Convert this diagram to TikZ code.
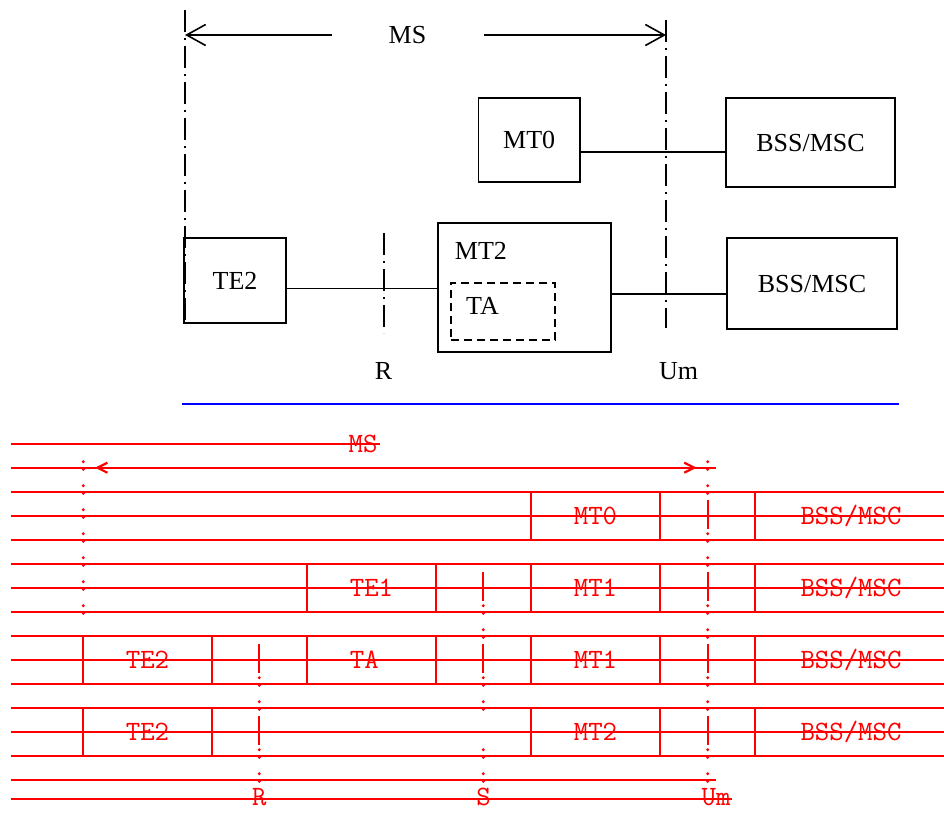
\documentclass[tikz,border=0pt]{standalone}
\usepackage{fontspec}
\setmainfont{Liberation Serif}
\usetikzlibrary{arrows.meta, positioning}

\begin{document}
\begin{tikzpicture}[x=1pt, y=-1pt,
    box/.style={rectangle, draw, line width=1.7pt, inner sep=0pt, font=\fontsize{26}{26}\selectfont, text height=17.2pt, text depth=0pt},
    tabox/.style={rectangle, draw, line width=2pt, dash pattern=on 8pt off 5pt, inner sep=0pt},
    plain/.style={inner sep=0pt, font=\fontsize{26}{26}\selectfont, text height=17.2pt, text depth=0pt},
    link/.style={line width=1.7pt},
    border/.style={line width=1.5pt, dash pattern=on 22pt off 6pt on 2pt off 6pt},
    msarrow/.style={-{Straight Barb[length=19pt, width=21pt]}, line width=1.6pt},
    redtext/.style={inner sep=0pt, text=red, font=\ttfamily\fontsize{28}{28}\selectfont, text height=16.8pt, text depth=0pt},
    redbox/.style={redtext, rectangle, draw=red, line width=2.4pt, minimum width=128.5pt, minimum height=48pt},
    bssbox/.style={redbox, minimum width=192pt},
    strike/.style={red, line width=2.4pt},
    redlink/.style={red, line width=2.4pt},
    bar/.style={red, line width=2pt},
    redarrow/.style={{Straight Barb[length=10pt, width=10pt]}-{Straight Barb[length=10pt, width=10pt]}, red, line width=2.2pt}
]
\useasboundingbox (0,0) rectangle (944,812);
\clip (0,0) rectangle (944,812);

% MS boundaries
\coordinate (lefttop) at (185,10);
\coordinate (leftbot) at (185,323);
\coordinate (umtop) at (666,20);
\coordinate (umbot) at (666,328);
\coordinate (rtop) at (384,233);
\coordinate (rbot) at (384,333);
\draw[border] (lefttop) -- (leftbot);
\draw[border] (umtop) -- (umbot);
\draw[border] (rtop) -- (rbot);

% MS span
\node[plain, minimum width=151.6pt] (ms) at (407.5,35) {MS};
\draw[msarrow] (ms.west) -- (lefttop |- ms.west);
\draw[msarrow] (ms.east) -- (umtop |- ms.east);

% MT0 row
\node[box, minimum width=101.7pt, minimum height=84pt] (mt0) at (529.2,139.7) {MT0};
\node[box, minimum width=169pt, minimum height=89pt] (bssa) at (810.5,142.5) {BSS/MSC};
\draw[link] ([yshift=-12pt]mt0.east) -- ([yshift=-12pt]mt0.east -| bssa.west);

% TE2 / MT2 row
\node[box, minimum width=102pt, minimum height=85pt] (te2) at (235,280.5) {TE2};
\node[box, minimum width=173pt, minimum height=129pt] (mt2) at (524.5,287.8) {};
\node[plain, below right=20pt and 17.6pt of mt2.north west] (mt2name) {MT2};
\node[tabox, minimum width=104pt, minimum height=57.3pt] (ta) at (503,311.4) {};
\node[plain, below right=15.3pt and 16pt of ta.north west] (taname) {TA};
\node[box, minimum width=170pt, minimum height=91.6pt] (bssb) at (812,283.5) {BSS/MSC};
\draw[link] ([yshift=-8pt]te2.east) -- ([yshift=-8pt]te2.east -| mt2.west);
\draw[link] ([yshift=-6pt]mt2.east) -- ([yshift=-6pt]mt2.east -| bssb.west);

% reference points
\node[plain] (rname) at (383.6,370.7) {R};
\node[plain] (umname) at (678.6,370.7) {Um};

% separator
\draw[blue, line width=2pt] (182,404) -- (899,404);

% struck-out lines
\foreach \k in {2,...,13}
  \draw[strike] (11,{443.7+24*\k}) -- (944,{443.7+24*\k});
\draw[strike] (11,443.7) -- (380,443.7);
\draw[strike] (11,467.7) -- (716,467.7);
\draw[strike] (11,779.7) -- (716,779.7);
\draw[strike] (11,799) -- (732,799);

% MS span (old)
\node[redtext] (msred) at (363,443.7) {MS};
\coordinate (arrl) at (95,467.7);
\coordinate (arrr) at (696.7,467.7);
\draw[redarrow] (arrl) -- (arrr);

% old boxes
\node[redbox] (mtzero) at (595.5,515.7) {MT0};
\node[bssbox] (bsszero) at (851,515.7) {BSS/MSC};
\node[redbox] (teone) at (371.5,587.7) {TE1};
\node[redbox] (mtonea) at (595.5,587.7) {MT1};
\node[bssbox] (bssone) at (851,587.7) {BSS/MSC};
\node[redbox] (tetwoa) at (147.5,659.7) {TE2};
\node[redbox] (adapter) at (371.5,659.7) {TA\phantom{1}};
\node[redbox] (mtoneb) at (595.5,659.7) {MT1};
\node[bssbox] (bsstwo) at (851,659.7) {BSS/MSC};
\node[redbox] (tetwob) at (147.5,731.7) {TE2};
\node[redbox] (mttwo) at (595.5,731.7) {MT2};
\node[bssbox] (bssthree) at (851,731.7) {BSS/MSC};

% old links
\draw[redlink] (mtzero) -- (bsszero);
\draw[redlink] (teone) -- (mtonea);
\draw[redlink] (mtonea) -- (bssone);
\draw[redlink] (tetwoa) -- (adapter);
\draw[redlink] (adapter) -- (mtoneb);
\draw[redlink] (mtoneb) -- (bsstwo);
\draw[redlink] (tetwob) -- (mttwo);
\draw[redlink] (mttwo) -- (bssthree);

% old boundary marks
\foreach \k in {1,...,7}
  \fill[red] (83.3,{437.7+24*\k}) circle (1.6) (83.3,{445.4+24*\k}) circle (1.6);
\foreach \k in {10,11,13,14}
  \fill[red] (259.3,{437.7+24*\k}) circle (1.6) (259.3,{445.4+24*\k}) circle (1.6);
\foreach \k in {9,12}
  \draw[bar] (259.3,{427.7+24*\k}) -- (259.3,{456.7+24*\k});
\foreach \k in {7,8,10,11,13,14}
  \fill[red] (483.3,{437.7+24*\k}) circle (1.6) (483.3,{445.4+24*\k}) circle (1.6);
\foreach \k in {6,9}
  \draw[bar] (483.3,{427.7+24*\k}) -- (483.3,{456.7+24*\k});
\foreach \k in {1,2,4,5,7,8,10,11,13,14}
  \fill[red] (707.7,{437.7+24*\k}) circle (1.6) (707.7,{445.4+24*\k}) circle (1.6);
\foreach \k in {3,6,9,12}
  \draw[bar] (707.7,{427.7+24*\k}) -- (707.7,{456.7+24*\k});

% old reference points
\node[redtext] (rred) at (259.3,797) {R};
\node[redtext] (sred) at (483.5,797) {S};
\node[redtext] (umred) at (716,797) {Um};

\end{tikzpicture}
\end{document}
